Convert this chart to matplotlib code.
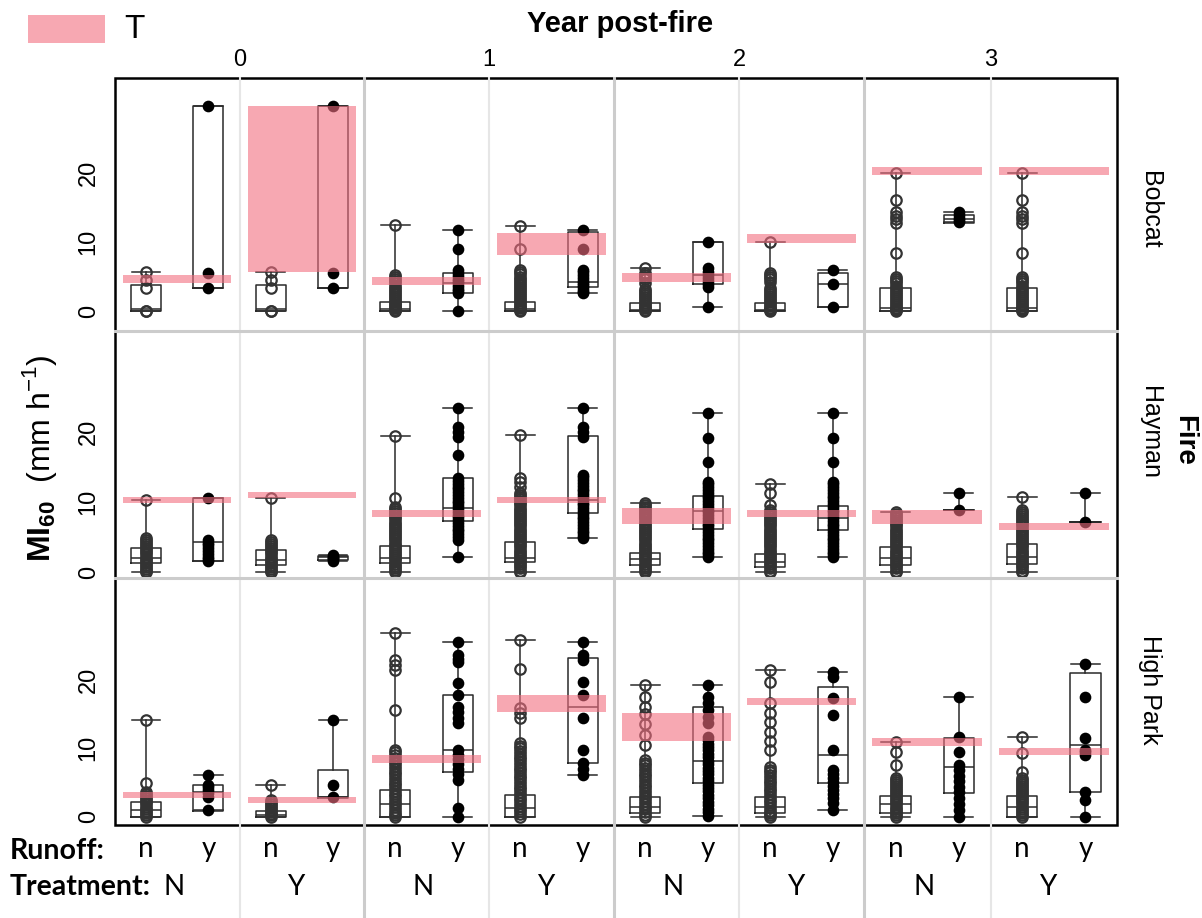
import matplotlib.pyplot as plt
from matplotlib.lines import Line2D
from matplotlib.patches import Rectangle

plt.rcParams['font.family'] = 'Liberation Sans'
plt.rcParams['mathtext.fontset'] = 'custom'
plt.rcParams['mathtext.rm'] = 'Liberation Sans'
plt.rcParams['mathtext.bf'] = 'Liberation Sans:bold'

fires = ['Bobcat', 'Hayman', 'High Park']
years = ['0', '1', '2', '3']
runoff = ['n', 'y', 'n', 'y']
treatment = ['N', 'Y']

# points per group, order: (N,n) (N,y) (Y,n) (Y,y)
bobcat_0 = [[0, 0, 3.3, 4.5, 5.7], [3.3, 5.5, 29.7], [0, 0, 3.3, 4.5, 5.7], [3.3, 5.5, 29.7]]
bobcat_1 = [[12.5, 5.2, 4.9, 4.6, 4.3, 4.0, 3.7, 3.4, 3.1, 2.8, 2.5, 2.2, 1.9, 1.6, 1.3, 1.0, 0.8, 0.6, 0.4, 0.2, 0.1, 0],
            [11.7, 9.0, 5.9, 5.5, 5.1, 4.7, 4.3, 4.0, 3.6, 3.2, 2.9, 2.6, 0],
            [12.3, 9.0, 5.9, 5.6, 5.3, 5.0, 4.7, 4.4, 4.1, 3.8, 3.5, 3.2, 2.9, 2.6, 2.3, 2.0, 1.7, 1.4, 1.1, 0.8, 0.6, 0.4, 0.2, 0],
            [11.7, 9.0, 5.9, 5.6, 5.2, 4.8, 4.4, 4.1, 3.8, 3.5, 3.1, 2.8, 2.6]]
bobcat_2 = [[6.2, 5.5, 5.2, 4.9, 4.6, 4.1, 3.2, 2.9, 2.6, 2.3, 2.0, 1.7, 1.4, 1.1, 0.8, 0.6, 0.4, 0.2, 0],
            [10.0, 6.2, 5.6, 5.2, 4.8, 4.3, 3.9, 3.5, 0.6],
            [10.0, 5.5, 5.2, 4.9, 4.6, 4.2, 3.4, 3.1, 2.8, 2.5, 2.2, 1.9, 1.6, 1.3, 1.0, 0.7, 0.5, 0.3, 0.1, 0],
            [5.9, 3.9, 0.6]]
bobcat_3 = [[20.0, 16.1, 14.3, 13.8, 13.3, 12.8, 8.4, 4.9, 4.6, 4.3, 4.0, 3.7, 3.4, 3.1, 2.8, 2.5, 2.2, 1.9, 1.6, 1.3, 1.0, 0.7, 0.5, 0.3, 0.1, 0],
            [14.3, 13.9, 13.5, 13.2, 12.9],
            [20.0, 16.1, 14.3, 13.8, 13.3, 12.8, 8.4, 4.9, 4.6, 4.3, 4.0, 3.7, 3.4, 3.1, 2.8, 2.5, 2.2, 1.9, 1.6, 1.3, 1.0, 0.7, 0.5, 0.3, 0.1, 0],
            []]

hayman_0 = [[10.3, 4.9, 4.6, 4.3, 4.0, 3.7, 3.4, 3.1, 2.8, 2.5, 2.2, 1.9, 1.6, 1.3, 1.0, 0.7, 0.4, 0.2, 0],
            [10.6, 4.6, 4.2, 3.8, 3.4, 3.0, 2.6, 2.2, 1.8, 1.6],
            [10.6, 4.6, 4.3, 4.0, 3.7, 3.4, 3.1, 2.8, 2.5, 2.2, 1.9, 1.6, 1.3, 1.0, 0.7, 0.4, 0.2, 0],
            [2.4, 2.2, 2.0, 1.8, 1.6]]
hayman_1 = [[19.4, 10.6, 9.3, 9.0, 8.7, 8.4, 8.1, 7.8, 7.5, 7.2, 6.9, 6.6, 6.3, 6.0, 5.7, 5.4, 5.1, 4.8, 4.5, 4.2,
             3.9, 3.6, 3.3, 3.0, 2.7, 2.4, 2.1, 1.8, 1.5, 1.2, 0.9, 0.6, 0.3, 0],
            [23.4, 20.7, 20.0, 19.3, 16.7, 13.4, 13.0, 12.6, 12.2, 11.8, 11.4, 11.0, 10.6, 10.2, 9.8, 9.4, 9.0, 8.6,
             8.2, 7.8, 7.4, 7.0, 6.6, 6.2, 5.8, 5.4, 5.0, 4.6, 2.1],
            [19.6, 13.4, 12.8, 12.1, 11.3, 11.0, 10.7, 10.4, 10.1, 9.8, 9.5, 9.2, 8.9, 8.6, 8.3, 8.0, 7.7, 7.4, 7.1,
             6.8, 6.5, 6.2, 5.9, 5.6, 5.3, 5.0, 4.7, 4.4, 4.1, 3.8, 3.5, 3.2, 2.9, 2.6, 2.3, 2.0, 1.7, 1.4, 1.1,
             0.8, 0.5, 0.2, 0],
            [23.4, 20.7, 20.0, 19.3, 13.9, 13.5, 13.1, 12.7, 12.3, 11.9, 11.5, 11.1, 10.7, 10.3, 9.9, 9.5, 9.1, 8.7,
             8.3, 7.9, 7.5, 7.1, 6.7, 6.3, 5.9, 5.5, 5.2, 4.9]]
hayman_2 = [[9.9, 9.6, 9.3, 9.0, 8.7, 8.4, 8.1, 7.8, 7.5, 7.2, 6.9, 6.6, 6.3, 6.0, 5.7, 5.4, 5.1, 4.8, 4.5, 4.2,
             3.9, 3.6, 3.3, 3.0, 2.7, 2.4, 2.1, 1.8, 1.5, 1.2, 0.9, 0.6, 0.3, 0],
            [22.7, 19.1, 15.7, 12.9, 12.5, 12.1, 11.7, 11.3, 10.9, 10.5, 10.1, 9.7, 9.3, 8.9, 8.5, 8.1, 7.7, 7.3,
             6.9, 6.5, 6.1, 5.7, 5.3, 4.9, 4.5, 4.1, 3.7, 3.3, 2.9, 2.5, 2.1],
            [12.6, 11.3, 9.6, 8.9, 8.6, 8.3, 8.0, 7.7, 7.4, 7.1, 6.8, 6.5, 6.2, 5.9, 5.6, 5.3, 5.0, 4.7, 4.4, 4.1,
             3.8, 3.5, 3.2, 2.9, 2.6, 2.3, 2.0, 1.7, 1.4, 1.1, 0.8, 0.5, 0.2, 0],
            [22.7, 19.1, 15.7, 12.9, 12.5, 12.1, 11.7, 11.3, 10.9, 10.5, 10.1, 9.7, 9.3, 8.9, 8.5, 8.1, 7.7, 7.3,
             6.9, 6.5, 6.1, 5.7, 5.3, 4.9, 4.5, 4.1, 3.7, 3.3, 2.9, 2.5, 2.1]]
hayman_3 = [[8.6, 8.3, 8.0, 7.7, 7.4, 7.1, 6.8, 6.5, 6.2, 5.9, 5.6, 5.3, 5.0, 4.7, 4.4, 4.1, 3.8, 3.5, 3.2, 2.9,
             2.6, 2.3, 2.0, 1.7, 1.4, 1.1, 0.8, 0.5, 0.2, 0],
            [11.3, 8.9],
            [10.7, 8.9, 8.6, 8.3, 8.0, 7.7, 7.4, 7.1, 6.8, 6.5, 6.2, 5.9, 5.6, 5.3, 5.0, 4.7, 4.4, 4.1, 3.8, 3.5,
             3.2, 2.9, 2.6, 2.3, 2.0, 1.7, 1.4, 1.1, 0.8, 0.5, 0.2, 0],
            [11.3, 7.1]]

highpark_0 = [[14.2, 5.0, 3.6, 3.3, 3.0, 2.7, 2.4, 2.1, 1.8, 1.5, 1.2, 0.9, 0.6, 0.3, 0],
              [6.1, 4.7, 4.3, 3.9, 3.5, 2.9, 1.0],
              [4.7, 2.5, 2.2, 1.9, 1.6, 1.3, 1.0, 0.7, 0.4, 0.2, 0],
              [14.2, 4.7, 2.9]]
highpark_1 = [[26.9, 22.9, 22.2, 21.5, 15.6, 9.8, 9.4, 9.0, 8.6, 8.2, 7.8, 7.4, 7.0, 6.6, 6.2, 5.8, 5.4, 5.0, 4.6,
               4.2, 3.8, 3.4, 3.0, 2.6, 2.2, 1.8, 1.4, 1.0, 0.6, 0.3, 0],
              [25.5, 23.6, 23.1, 22.6, 19.6, 17.8, 16.1, 15.3, 14.5, 13.7, 9.8, 9.1, 8.4, 7.7, 7.0, 6.2, 5.4, 1.3, 0],
              [25.8, 21.6, 15.9, 15.2, 14.5, 10.8, 10.4, 10.0, 9.6, 9.2, 8.8, 8.4, 8.0, 7.6, 7.2, 6.8, 6.4, 6.0, 5.6,
               5.2, 4.8, 4.4, 4.0, 3.6, 3.2, 2.8, 2.4, 2.0, 1.6, 1.2, 0.8, 0.4, 0],
              [25.5, 23.6, 22.9, 19.7, 17.8, 14.5, 9.8, 7.9, 7.0, 6.1]]
highpark_2 = [[19.3, 17.5, 16.0, 15.0, 13.5, 12.0, 10.5, 8.3, 7.9, 7.5, 7.1, 6.7, 6.3, 5.9, 5.5, 5.1, 4.7, 4.3, 3.9,
               3.5, 3.1, 2.7, 2.3, 1.9, 1.5, 1.1, 0.7, 0.3, 0],
              [19.3, 17.5, 16.6, 15.6, 14.6, 13.7, 11.7, 11.2, 10.7, 10.2, 9.7, 9.2, 8.7, 8.2, 7.7, 7.2, 6.7, 6.2,
               5.7, 5.2, 4.7, 4.2, 3.7, 3.2, 2.7, 2.2, 1.7, 1.2, 0.7, 0.1],
              [21.5, 19.7, 16.6, 15.2, 13.8, 12.4, 11.1, 9.8, 7.3, 6.9, 6.5, 6.1, 5.7, 5.3, 4.9, 4.5, 4.1, 3.7, 3.3,
               2.9, 2.5, 2.1, 1.7, 1.3, 0.9, 0.6, 0.3, 0],
              [21.2, 20.4, 17.4, 14.9, 9.8, 6.9, 6.3, 5.7, 5.1, 4.5, 3.9, 3.3, 2.7, 2.0, 1.0]]
highpark_3 = [[10.9, 9.5, 7.6, 5.7, 5.4, 5.1, 4.8, 4.5, 4.2, 3.9, 3.6, 3.3, 3.0, 2.7, 2.4, 2.1, 1.8, 1.5, 1.2, 0.9,
               0.6, 0.3, 0],
              [17.5, 11.7, 9.5, 7.6, 6.8, 6.0, 5.2, 4.4, 3.6, 2.8, 1.8, 1.0, 0],
              [11.7, 9.3, 6.6, 5.7, 5.4, 5.1, 4.8, 4.5, 4.2, 3.9, 3.6, 3.3, 3.0, 2.7, 2.4, 2.1, 1.8, 1.5, 1.2, 0.9,
               0.6, 0.3, 0],
              [22.3, 17.5, 11.5, 9.8, 9.5, 9.1, 3.6, 2.5, 0]]

# box (q1, median, q3) per group
bobcat_box = [[(0, 0.3, 3.8), (3.3, 3.3, 29.7), (0, 0.3, 3.8), (3.3, 3.3, 29.7)],
              [(0, 0.3, 1.3), (2.6, 4.1, 5.5), (0, 0.3, 1.3), (3.5, 4.2, 11.4)],
              [(0, 0.1, 1.2), (3.9, 5.2, 10.0), (0, 0.2, 1.2), (0.6, 3.9, 5.5)],
              [(0, 0.4, 3.3), (12.8, 13.3, 13.9), (0, 0.4, 3.3), None]]
hayman_box = [[(1.3, 2.0, 3.4), (1.6, 4.3, 10.6), (1.0, 1.7, 3.1), (1.7, 2.1, 2.3)],
              [(1.3, 2.0, 3.7), (7.3, 9.1, 13.4), (1.4, 2.0, 4.3), (8.4, 10.3, 19.4)],
              [(1.0, 1.8, 2.7), (6.1, 8.7, 10.9), (0.7, 1.4, 2.6), (6.0, 7.7, 9.4)],
              [(1.0, 2.0, 3.6), (8.9, 8.9, 8.9), (1.1, 2.1, 4.0), (7.1, 7.1, 7.1)]]
highpark_box = [[(0, 1.0, 2.2), (0.9, 3.6, 4.7), (0, 0.3, 0.9), (2.8, 2.9, 6.9)],
                [(0, 1.8, 3.9), (6.6, 9.8, 17.8), (0, 1.3, 3.2), (7.9, 16.1, 23.2)],
                [(0.6, 1.5, 2.9), (5.0, 8.2, 16.1), (0.6, 1.5, 2.9), (5.0, 9.1, 19.0)],
                [(0.6, 1.8, 3.1), (3.5, 7.3, 11.5), (0, 1.5, 3.1), (3.6, 10.5, 21.0)]]

# threshold T ranges (low, high) for treatment N and Y
bobcat_T = [[(4.1, 5.2), (5.7, 29.7)], [(3.8, 4.9), (8.1, 11.3)],
            [(4.2, 5.5), (9.9, 11.2)], [(19.7, 20.9), (19.7, 20.9)]]
hayman_T = [[(9.8, 10.7), (10.6, 11.4)], [(7.9, 8.9), (9.8, 10.7)],
            [(6.9, 9.1), (7.9, 8.9)], [(6.9, 8.9), (6.0, 7.0)]]
highpark_T = [[(2.8, 3.6), (2.0, 2.9)], [(7.9, 9.1), (15.3, 17.8)],
              [(11.1, 15.2), (16.4, 17.4)], [(10.4, 11.5), (9.1, 10.1)]]

points = [[bobcat_0, bobcat_1, bobcat_2, bobcat_3],
          [hayman_0, hayman_1, hayman_2, hayman_3],
          [highpark_0, highpark_1, highpark_2, highpark_3]]
boxes = [bobcat_box, hayman_box, highpark_box]
bands = [bobcat_T, hayman_T, highpark_T]

W, H = 1202, 918
def fx(px):
    return px / W
def fy(py):
    return 1 - py / H

edges = [115, 364, 614, 864, 1117]
rows = [(78, 331), (331, 578), (578, 825)]
ylims = [(-2.9, 33.8), (-0.86, 34.4), (-1.2, 34.9)]
pink = '#f26e80'
line_c = '#2a2a2a'

fig = plt.figure(figsize=(W / 100, H / 100), dpi=100)

for r in range(3):
    for c in range(4):
        top, bot = rows[r]
        ax = fig.add_axes([fx(edges[c]), fy(bot), (edges[c + 1] - edges[c]) / W, (bot - top) / H])
        ax.set_xlim(0.5, 4.5)
        ax.set_ylim(*ylims[r])
        ax.patch.set_visible(False)
        for s in ax.spines.values():
            s.set_visible(False)
        ax.set_xticks([])
        if c == 0:
            ax.set_yticks([0, 10, 20])
            ax.set_yticklabels(['0', '10', '20'], rotation=90, va='center', fontsize=17)
            ax.tick_params(axis='y', length=0, pad=11)
        else:
            ax.set_yticks([])

        stats, pos = [], []
        for i, (p, b) in enumerate(zip(points[r][c], boxes[r][c])):
            if not p:
                continue
            stats.append(dict(whislo=min(p), q1=b[0], med=b[1], q3=b[2], whishi=max(p)))
            pos.append(i + 1)
            hollow = runoff[i] == 'n'
            ax.plot([i + 1] * len(p), p, 'o', ms=7.5 if hollow else 6.8,
                    mfc='none' if hollow else 'black', mec='#333333' if hollow else 'black',
                    mew=1.6, zorder=3)
        lp = dict(color=line_c, lw=1.1)
        ax.bxp(stats, positions=pos, widths=0.48, capwidths=0.46, showfliers=False,
               boxprops=lp, whiskerprops=lp, capprops=lp, medianprops=lp,
               manage_ticks=False, zorder=2)

        for j, (lo, hi) in enumerate(bands[r][c]):
            xc = 1.5 + 2 * j
            ax.fill_between([xc - 0.87, xc + 0.87], lo, hi, color=pink, alpha=0.6, lw=0, zorder=5)

# separators and frame
for c in range(1, 4):
    fig.add_artist(Line2D([fx(edges[c])] * 2, [fy(78), fy(918)], color='#cccccc', lw=2.2))
for c in range(4):
    xm = edges[c] + (edges[c + 1] - edges[c]) / 2
    fig.add_artist(Line2D([fx(xm)] * 2, [fy(78), fy(918)], color='#e6e6e6', lw=1.5))
for yy in [331, 578]:
    fig.add_artist(Line2D([fx(115), fx(1117)], [fy(yy)] * 2, color='#cccccc', lw=2.2))
fig.add_artist(Rectangle((fx(115), fy(825)), (1117 - 115) / W, (825 - 78) / H,
                         fill=False, ec='black', lw=1.8))

# titles and strips
fig.text(fx(620), fy(24), 'Year post-fire', fontweight='bold', fontsize=21, ha='center', va='center')
for c, yr in enumerate(years):
    fig.text(fx((edges[c] + edges[c + 1]) / 2), fy(60), yr, fontsize=17, ha='center', va='center')
for fire, yc in zip(fires, [210, 433, 690]):
    fig.text(fx(1150), fy(yc), fire, rotation=270, fontsize=18, ha='center', va='center')
fig.text(fx(1184), fy(440), 'Fire', rotation=270, fontweight='bold', fontsize=20, ha='center', va='center')
fig.text(fx(40), fy(458), r'$\mathbf{MI_{60}}$  (mm h$^{\mathrm{-1}}$)', rotation=90,
         fontsize=23, ha='center', va='center')

# legend
fig.add_artist(Rectangle((fx(28), fy(43)), 77 / W, 28 / H, color=pink, alpha=0.6, lw=0))
fig.text(fx(124), fy(29), 'T', fontsize=24, ha='left', va='center')

# bottom labels
fig.text(fx(10), fy(851), 'Runoff:', family='Lato', fontweight='bold', fontsize=20.5, ha='left', va='center')
fig.text(fx(10), fy(887), 'Treatment:', family='Lato', fontweight='bold', fontsize=20.5, ha='left', va='center')
for c in range(4):
    w = edges[c + 1] - edges[c]
    for i, lab in enumerate(runoff):
        fig.text(fx(edges[c] + (i + 0.5) / 4 * w), fy(849), lab, family='Lato',
                 fontsize=20, ha='center', va='center')
    for j, lab in enumerate(treatment):
        xp = [1.45, 3.4][j]
        fig.text(fx(edges[c] + (xp - 0.5) / 4 * w), fy(887), lab, family='Lato',
                 fontsize=20, ha='center', va='center')

fig.savefig('out.png', dpi=100)
